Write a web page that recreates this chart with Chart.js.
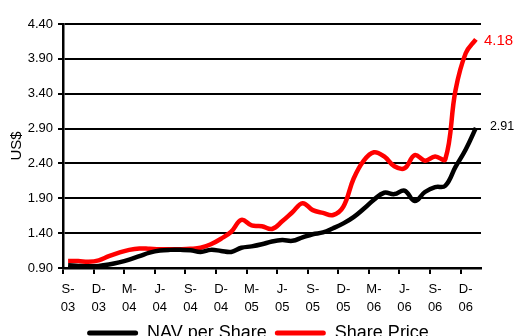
<!DOCTYPE html>
<html>
<head>
<script src="https://cdn.jsdelivr.net/npm/chart.js"></script>
<style>
  body { margin: 0; background: #fff; }
  #wrap { width: 516px; height: 336px; }
</style>
</head>
<body>
<div id="wrap"><canvas id="navChart" width="516" height="336"></canvas></div>
<script>
// month labels, Sep-03 .. Jan-07
const months = [
  'S-03','O-03','N-03','D-03','J-04','F-04','M-04','A-04','M-04','J-04','J-04','A-04',
  'S-04','O-04','N-04','D-04','J-05','F-05','M-05','A-05','M-05','J-05','J-05','A-05',
  'S-05','O-05','N-05','D-05','J-06','F-06','M-06','A-06','M-06','J-06','J-06','A-06',
  'S-06','O-06','N-06','D-06','J-07'
];
const navPerShare = [
  0.94, 0.93, 0.925, 0.93, 0.95, 0.98, 1.02, 1.07, 1.12, 1.15, 1.16, 1.16,
  1.155, 1.13, 1.16, 1.145, 1.13, 1.19, 1.21, 1.24, 1.28, 1.30, 1.29, 1.34,
  1.385, 1.41, 1.47, 1.54, 1.63, 1.75, 1.88, 1.98, 1.96, 2.01, 1.86, 1.99,
  2.06, 2.08, 2.35, 2.60, 2.91
];
const sharePrice = [
  1.00, 1.00, 0.99, 1.01, 1.07, 1.12, 1.16, 1.18, 1.175, 1.17, 1.17, 1.17,
  1.175, 1.19, 1.24, 1.32, 1.42, 1.59, 1.51, 1.50, 1.46, 1.57, 1.70, 1.83,
  1.73, 1.69, 1.66, 1.78, 2.18, 2.44, 2.56, 2.50, 2.36, 2.33, 2.52, 2.44,
  2.50, 2.46, 3.45, 3.98, 4.18
];
const yTicks = [0.90, 1.40, 1.90, 2.40, 2.90, 3.40, 3.90, 4.40];

const FONT = "'Liberation Sans', Arial, sans-serif";

// value label at the end of each line
const endLabels = {
  id: 'endLabels',
  afterDatasetsDraw(chart) {
    const ctx = chart.ctx;
    chart.data.datasets.forEach((ds, i) => {
      const pts = chart.getDatasetMeta(i).data;
      const last = pts[pts.length - 1];
      const val = ds.data[ds.data.length - 1];
      ctx.save();
      ctx.fillStyle = ds.borderColor;
      ctx.font = ds.endFont + 'px ' + FONT;
      ctx.textBaseline = 'middle';
      ctx.fillText(val.toFixed(2), last.x + ds.endGap, last.y + ds.endDy);
      ctx.restore();
    });
  }
};

new Chart(document.getElementById('navChart'), {
  type: 'line',
  data: {
    labels: months,
    datasets: [
      {
        label: 'NAV per Share',
        data: navPerShare,
        borderColor: '#000000',
        backgroundColor: '#000000',
        borderWidth: 4.5,
        pointRadius: 0,
        tension: 0.4,
        endFont: 12.5, endGap: 14, endDy: -1
      },
      {
        label: 'Share Price',
        data: sharePrice,
        borderColor: '#ff0000',
        backgroundColor: '#ff0000',
        borderWidth: 4.5,
        pointRadius: 0,
        tension: 0.4,
        endFont: 15, endGap: 8, endDy: 2
      }
    ]
  },
  options: {
    responsive: false,
    animation: false,
    layout: { padding: { top: 24, right: 0, left: 0, bottom: -16 } },
    plugins: {
      tooltip: { enabled: false },
      legend: {
        position: 'bottom',
        labels: {
          font: { family: FONT, size: 18 },
          color: '#000',
          boxWidth: 51,
          boxHeight: 5,
          padding: 8,
          useBorderRadius: true,
          borderRadius: 2.5,
          generateLabels(chart) {
            return Chart.defaults.plugins.legend.labels.generateLabels(chart)
              .map(l => Object.assign(l, { lineWidth: 0 }));
          }
        }
      }
    },
    scales: {
      x: {
        type: 'category',
        offset: true,
        afterFit(s) { s.height = 48; },
        grid: {
          offset: true,
          drawOnChartArea: false,
          drawTicks: true,
          tickLength: 6,
          lineWidth: 2,
          color: c => (c.index % 3 === 0 ? '#000' : 'rgba(0,0,0,0)')
        },
        border: { display: true, color: '#000', width: 2.5 },
        ticks: {
          autoSkip: false,
          maxRotation: 0,
          minRotation: 0,
          padding: 6,
          color: '#000',
          font: { family: FONT, size: 13, lineHeight: 1.4 },
          callback(v, i) {
            if (i % 3 !== 0) return '';
            const lab = months[i];
            return [lab.slice(0, 2), lab.slice(2)];
          }
        }
      },
      y: {
        min: 0.9,
        max: 4.4,
        afterFit(s) { s.width = 63; },
        afterBuildTicks(s) { s.ticks = yTicks.map(v => ({ value: v })); },
        grid: { color: '#000', lineWidth: 2, tickLength: 5 },
        border: { display: true, color: '#000', width: 2.5 },
        ticks: {
          padding: 5,
          color: '#000',
          font: { family: FONT, size: 13 },
          callback: v => v.toFixed(2)
        },
        title: {
          display: true,
          text: 'US$',
          color: '#000',
          font: { family: FONT, size: 15 },
          padding: { top: 8, bottom: 0 }
        }
      },
      // empty right-hand gutter that holds the end-of-line labels
      yGutter: {
        position: 'right',
        display: true,
        afterFit(s) { s.width = 35; },
        grid: { display: false, drawTicks: false },
        border: { display: false },
        ticks: { display: false }
      }
    }
  },
  plugins: [endLabels]
});
</script>
</body>
</html>
